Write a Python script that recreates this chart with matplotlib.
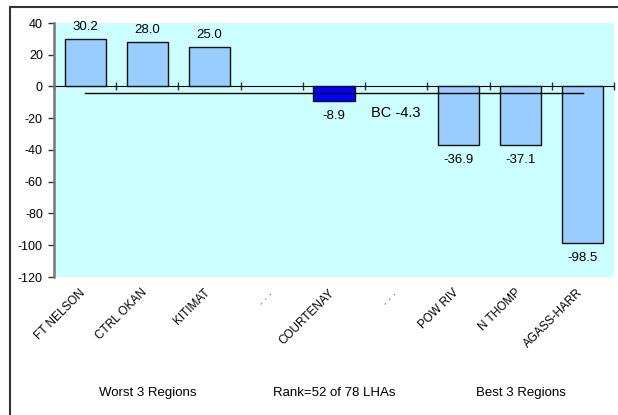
import matplotlib.pyplot as plt
from matplotlib.patches import Rectangle
from matplotlib.transforms import ScaledTranslation

plt.rcParams['font.family'] = ['Liberation Sans', 'DejaVu Sans']
plt.rcParams['font.size'] = 9
plt.rcParams['axes.unicode_minus'] = False

# Data
regions = ['FT NELSON', 'CTRL OKAN', 'KITIMAT', '. . .', 'COURTENAY', '. . .',
           'POW RIV', 'N THOMP', 'AGASS-HARR']
values = [30.2, 28.0, 25.0, None, -8.9, None, -36.9, -37.1, -98.5]
highlight = 'COURTENAY'
bc_value = -4.3
group_labels = ['Worst 3 Regions', 'Rank=52 of 78 LHAs', 'Best 3 Regions']

fig = plt.figure(figsize=(6.18, 4.15), dpi=100)
ax = fig.add_axes([54 / 618, 1 - 277 / 415, 560 / 618, 254 / 415])
ax.set_facecolor('#ccffff')

# outer frame of the chart
fig.patches.append(Rectangle((10 / 618, -0.05), 1.0, 1 - 7 / 415 + 0.05,
                             transform=fig.transFigure, fill=False,
                             edgecolor='#333333', linewidth=1.5))

xs = [i for i, v in enumerate(values) if v is not None]
vals = [v for v in values if v is not None]
colors = ['#0000ff' if regions[i] == highlight else '#99ccff' for i in xs]
bars = ax.bar(xs, vals, width=0.66, color=colors, edgecolor='#111111',
              linewidth=1, zorder=3)

# value labels: above positive bars, below negative ones
for x, v in zip(xs, vals):
    off = 4 if v >= 0 else -6.5
    ax.annotate('%.1f' % v, (x, v), xytext=(0, off), textcoords='offset points',
                ha='center', va='bottom' if v >= 0 else 'top', fontsize=9.5)

# BC average line
ax.plot([0, len(regions) - 1], [bc_value, bc_value], color='black',
        linewidth=1, zorder=4)
ax.text((len(regions) - 1) / 2 + 1, bc_value - 12.4, 'BC %.1f' % bc_value,
        ha='center', va='center', fontsize=10.5)

ax.set_xlim(-0.5, len(regions) - 0.5)
ax.set_ylim(-120, 40)
ax.set_yticks(range(-120, 41, 20))
ax.tick_params(axis='y', direction='out', length=4.5, width=1, color='#333333',
               labelsize=9)

ax.set_xticks(range(len(regions)))
ax.set_xticklabels(regions, rotation=45, ha='right', va='top',
                   rotation_mode='anchor', fontsize=8.5)
ax.tick_params(axis='x', length=0, pad=7)
shift = ScaledTranslation(-6 / 100, 0, fig.dpi_scale_trans)
for lab in ax.get_xticklabels():
    lab.set_transform(lab.get_transform() + shift)

for s in ['top', 'right', 'bottom']:
    ax.spines[s].set_visible(False)
ax.spines['left'].set_color('#777777')
ax.spines['left'].set_linewidth(1.8)

# zero axis with category separators
zero = ax.secondary_xaxis(120 / 160)
zero.set_xticks([i - 0.5 for i in range(len(regions) + 1)])
zero.set_xticklabels([])
zero.tick_params(direction='inout', length=6, width=1, color='#333333')
zero.spines['bottom'].set_color('#777777')
zero.spines['bottom'].set_linewidth(1.5)

group_x = [1, 4, 7]
for gx, lab in zip(group_x, group_labels):
    fig.text((54 + (gx + 0.5) * 560 / 9) / 618, 1 - 393 / 415, lab,
             ha='center', va='center', fontsize=9.5)

fig.savefig('out.png', dpi=100)
